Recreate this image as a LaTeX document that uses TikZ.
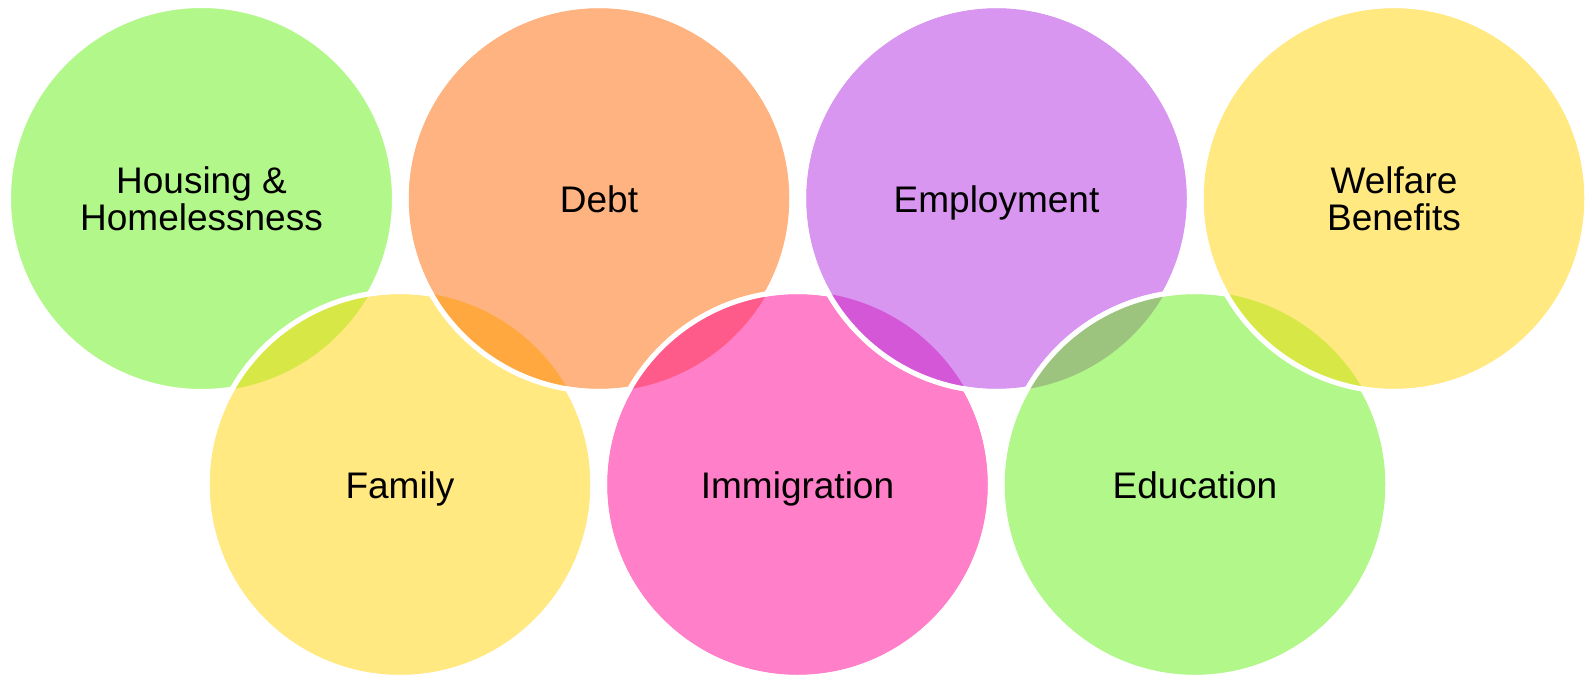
\documentclass[tikz,border=0pt]{standalone}
\usepackage{fontspec}
\setmainfont{Liberation Sans}
\definecolor{cgreen}{HTML}{B2F78A}
\definecolor{cyellow}{HTML}{FFE980}
\definecolor{corange}{HTML}{FFB380}
\definecolor{cpurple}{HTML}{D896F0}
\definecolor{cpink}{HTML}{FF80C8}
\definecolor{lgy}{HTML}{D7E745}
\definecolor{loy}{HTML}{FFA840}
\definecolor{lop}{HTML}{FF5B8A}
\definecolor{lpp}{HTML}{D457D8}
\definecolor{lpg}{HTML}{9DC47F}
\tikzset{
  topic/.style={circle, minimum size=386pt, inner sep=0pt, outer sep=0pt, draw=white, line width=5pt},
  rim/.style={draw=white, line width=5pt},
  lbl/.style={font=\fontsize{37pt}{37pt}\selectfont, align=center, text=black, inner sep=0pt},
  one/.style={lbl, anchor=base}
}
\newcommand{\lens}[3]{%
  \begin{scope}
    \clip (#1.center) circle[radius=193pt];
    \fill[#3] (#2.center) circle[radius=193pt];
  \end{scope}
  \draw[rim] (#2.center) circle[radius=193pt];
}
\begin{document}
\begin{tikzpicture}[x=1pt,y=-1pt]
\useasboundingbox (0,0) rectangle (1588,677);
\fill[white] (0,0) rectangle (1588,677);
\node[topic, fill=cgreen] (H) at (201.5,198.5) {};
\node[topic, fill=cyellow] (F) at (400,484.5) {};
\lens{H}{F}{lgy}
\node[topic, fill=corange] (D) at (599,198.5) {};
\lens{F}{D}{loy}
\node[topic, fill=cpink] (I) at (797.5,484.5) {};
\lens{D}{I}{lop}
\node[topic, fill=cpurple] (E) at (996.5,198.5) {};
\lens{I}{E}{lpp}
\node[topic, fill=cgreen] (Ed) at (1195,484.5) {};
\lens{E}{Ed}{lpg}
\node[topic, fill=cyellow] (W) at (1394,198.5) {};
\lens{Ed}{W}{lgy}
\node[lbl] (tH) at ([yshift=-0.5pt]H.center) {Housing \&\\Homelessness};
\node[one] (tF) at ([yshift=-13.5pt]F.center) {Family};
\node[one] (tD) at ([yshift=-13.5pt]D.center) {Debt};
\node[one] (tI) at ([yshift=-13.5pt]I.center) {Immigration};
\node[one] (tE) at ([yshift=-13.5pt]E.center) {Employment};
\node[one] (tEd) at ([yshift=-13.5pt]Ed.center) {Education};
\node[lbl] (tW) at ([yshift=-0.5pt]W.center) {Welfare\\Benefits};
\end{tikzpicture}
\end{document}
